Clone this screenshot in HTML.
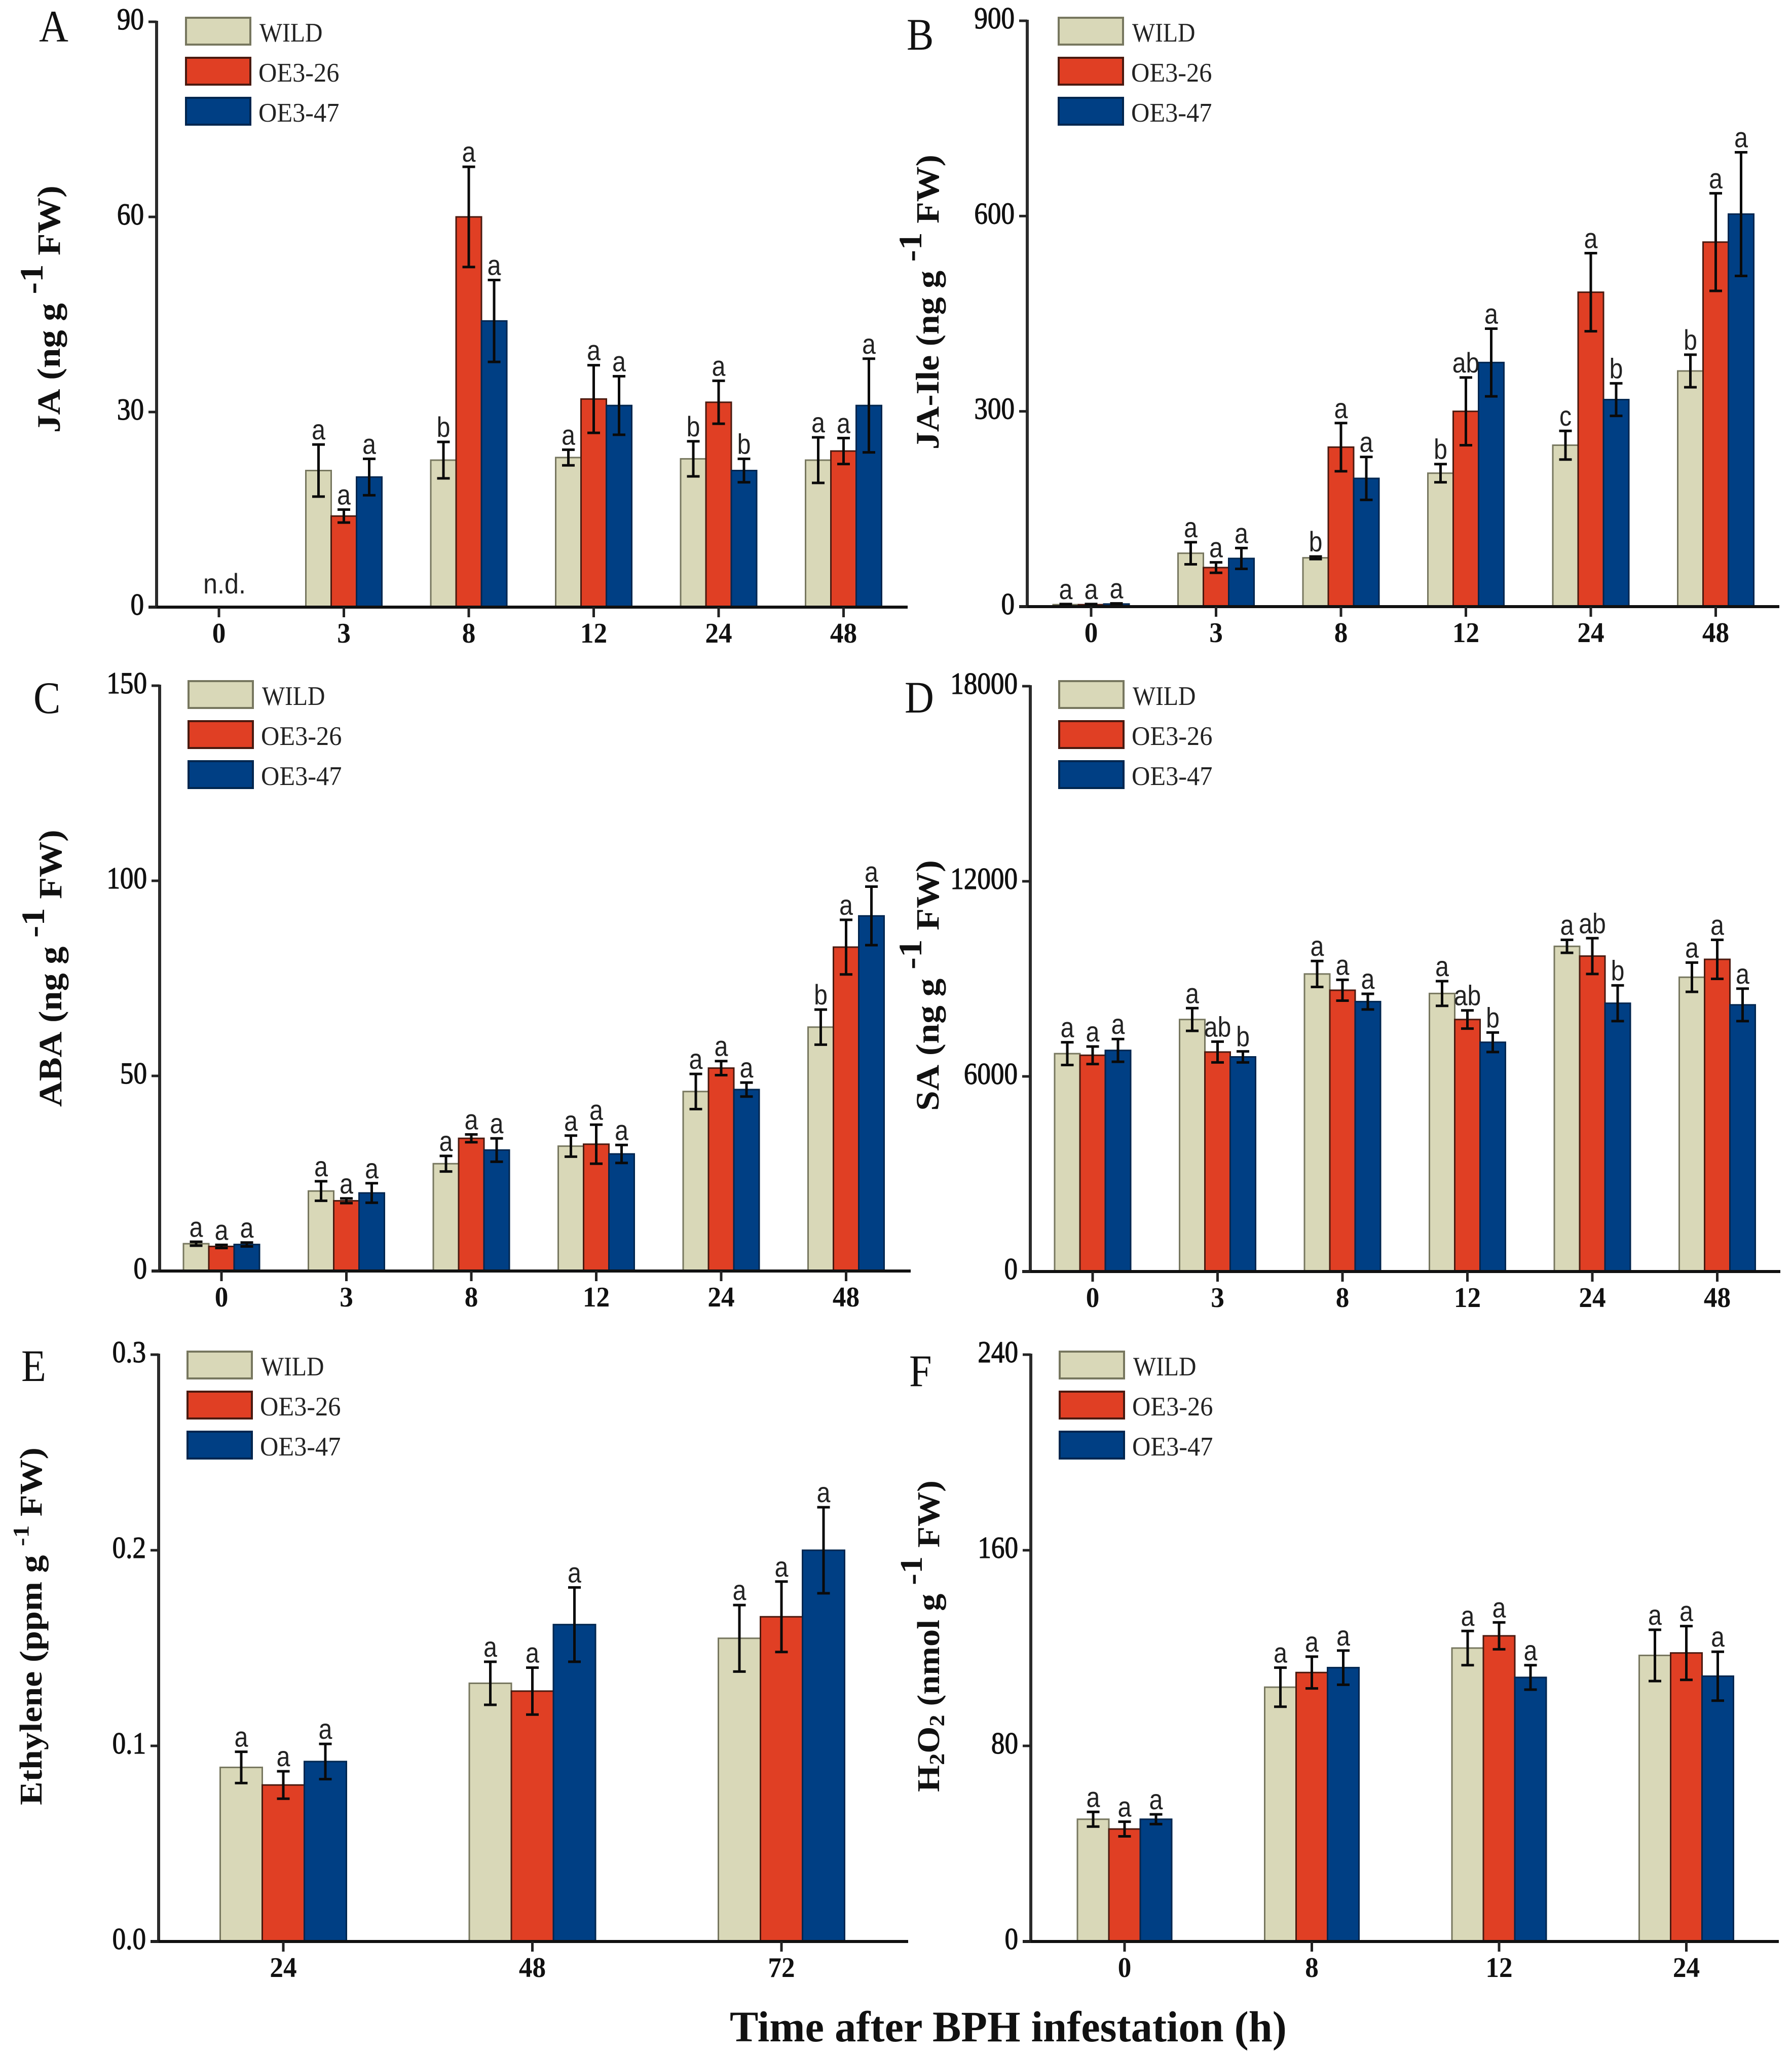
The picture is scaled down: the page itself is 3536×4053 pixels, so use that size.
<!DOCTYPE html>
<html lang="en">
<head>
<meta charset="utf-8">
<title>Phytohormone levels after BPH infestation</title>
<style>
html,body{margin:0;padding:0;background:#fff;}
svg{display:block;}
</style>
</head>
<body>
<svg id="figure" xmlns="http://www.w3.org/2000/svg" width="3536" height="4053" viewBox="0 0 3536 4053"></svg>
<script>
const seriesNames = ['WILD', 'OE3-26', 'OE3-47'];
const seriesFills = ['#d9d8b8', '#e03f24', '#003f84'];
const seriesEdges = ['#77775f', '#4a1a10', '#00264f'];

/* Panel A: JA */
const jaCategories = ['0', '3', '8', '12', '24', '48'];
const jaTicks = [0, 30, 60, 90];
const jaTickLabels = ['0', '30', '60', '90'];
const jaWild = [null, 21, 22.6, 23, 22.8, 22.6];
const jaWildErr = [null, 4, 2.8, 1.2, 2.7, 3.5];
const jaWildSig = ['', 'a', 'b', 'a', 'b', 'a'];
const jaOe26 = [null, 14, 60, 32, 31.5, 24];
const jaOe26Err = [null, 1, 7.7, 5.2, 3.3, 2];
const jaOe26Sig = ['', 'a', 'a', 'a', 'a', 'a'];
const jaOe47 = [null, 20, 44, 31, 21, 31];
const jaOe47Err = [null, 2.8, 6.3, 4.5, 1.8, 7.2];
const jaOe47Sig = ['', 'a', 'a', 'a', 'b', 'a'];

/* Panel B: JA-Ile */
const ileCategories = ['0', '3', '8', '12', '24', '48'];
const ileTicks = [0, 300, 600, 900];
const ileTickLabels = ['0', '300', '600', '900'];
const ileWild = [3, 82, 75, 205, 248, 362];
const ileWildErr = [1, 17, 2, 14, 22, 25];
const ileWildSig = ['a', 'a', 'b', 'b', 'c', 'b'];
const ileOe26 = [3, 60, 245, 300, 483, 560];
const ileOe26Err = [1, 8, 37, 52, 60, 75];
const ileOe26Sig = ['a', 'a', 'a', 'ab', 'a', 'a'];
const ileOe47 = [4, 74, 197, 375, 318, 603];
const ileOe47Err = [1, 16, 33, 52, 25, 95];
const ileOe47Sig = ['a', 'a', 'a', 'a', 'b', 'a'];

/* Panel C: ABA */
const abaCategories = ['0', '3', '8', '12', '24', '48'];
const abaTicks = [0, 50, 100, 150];
const abaTickLabels = ['0', '50', '100', '150'];
const abaWild = [7, 20.5, 27.5, 32, 46, 62.5];
const abaWildErr = [0.5, 2.5, 2, 2.7, 4.5, 4.5];
const abaWildSig = ['a', 'a', 'a', 'a', 'a', 'b'];
const abaOe26 = [6.3, 18, 34, 32.5, 52, 83];
const abaOe26Err = [0.4, 0.6, 1, 5, 1.8, 7];
const abaOe26Sig = ['a', 'a', 'a', 'a', 'a', 'a'];
const abaOe47 = [6.8, 20, 31, 30, 46.5, 91];
const abaOe47Err = [0.5, 2.5, 3, 2.3, 1.8, 7.5];
const abaOe47Sig = ['a', 'a', 'a', 'a', 'a', 'a'];

/* Panel D: SA */
const saCategories = ['0', '3', '8', '12', '24', '48'];
const saTicks = [0, 6000, 12000, 18000];
const saTickLabels = ['0', '6000', '12000', '18000'];
const saWild = [6700, 7750, 9150, 8550, 10000, 9050];
const saWildErr = [350, 350, 400, 380, 200, 450];
const saWildSig = ['a', 'a', 'a', 'a', 'a', 'a'];
const saOe26 = [6650, 6750, 8650, 7750, 9700, 9600];
const saOe26Err = [270, 320, 320, 280, 550, 600];
const saOe26Sig = ['a', 'ab', 'a', 'ab', 'ab', 'a'];
const saOe47 = [6800, 6600, 8300, 7050, 8250, 8200];
const saOe47Err = [350, 170, 240, 300, 550, 500];
const saOe47Sig = ['a', 'b', 'a', 'b', 'b', 'a'];

/* Panel E: Ethylene */
const ethCategories = ['24', '48', '72'];
const ethTicks = [0, 0.1, 0.2, 0.3];
const ethTickLabels = ['0.0', '0.1', '0.2', '0.3'];
const ethWild = [0.089, 0.132, 0.155];
const ethWildErr = [0.008, 0.011, 0.017];
const ethWildSig = ['a', 'a', 'a'];
const ethOe26 = [0.08, 0.128, 0.166];
const ethOe26Err = [0.007, 0.012, 0.018];
const ethOe26Sig = ['a', 'a', 'a'];
const ethOe47 = [0.092, 0.162, 0.2];
const ethOe47Err = [0.009, 0.019, 0.022];
const ethOe47Sig = ['a', 'a', 'a'];

/* Panel F: H2O2 */
const h2o2Categories = ['0', '8', '12', '24'];
const h2o2Ticks = [0, 80, 160, 240];
const h2o2TickLabels = ['0', '80', '160', '240'];
const h2o2Wild = [50, 104, 120, 117];
const h2o2WildErr = [3, 8, 7, 10.5];
const h2o2WildSig = ['a', 'a', 'a', 'a'];
const h2o2Oe26 = [46, 110, 125, 118];
const h2o2Oe26Err = [3, 6.5, 5.5, 11];
const h2o2Oe26Sig = ['a', 'a', 'a', 'a'];
const h2o2Oe47 = [50, 112, 108, 108.5];
const h2o2Oe47Err = [2, 7, 5, 10];
const h2o2Oe47Sig = ['a', 'a', 'a', 'a'];

const SERIF = '"Liberation Serif", serif';
const SANS = '"Liberation Sans", sans-serif';
const NS = 'http://www.w3.org/2000/svg';
const root = document.getElementById('figure');

function mk(tag, attrs, parent) {
  const el = document.createElementNS(NS, tag);
  for (const k in attrs) el.setAttribute(k, attrs[k]);
  parent.appendChild(el);
  return el;
}
function label(parent, x, y, str, size, family, weight, sx, anchor, fill) {
  const el = mk('text', {
    transform: 'translate(' + x + ',' + y + ') scale(' + sx + ',1)',
    'font-family': family, 'font-size': size, 'font-weight': weight,
    'text-anchor': anchor, fill: fill
  }, parent);
  el.textContent = str;
  return el;
}

function drawPanel(p) {
  const g = mk('g', {}, root);
  
  

  const maxV = p.ticks[p.ticks.length - 1];
  const yScale = v => p.y0 - (v / maxV) * (p.y0 - p.yTop);
  const xScale = i => p.firstX + i * p.step;

  /* panel letter */
  const letter = label(g, p.letterX, p.letterY, p.id, 89, SERIF, 'normal', 0.9, 'start', '#111');
  
  

  /* bars, error bars, significance letters */
  p.cats.forEach((cat, i) => {
    p.values.forEach((vals, s) => {
      if (vals[i] === null) return;
      const cx = xScale(i) + (s - 1) * p.barW;
      const top = yScale(vals[i]);
      const bar = mk('rect', {
        x: cx - p.barW / 2, y: top, width: p.barW, height: p.y0 - top,
        fill: seriesFills[s], stroke: seriesEdges[s], 'stroke-width': 3
      }, g);
      
      
    });
    p.values.forEach((vals, s) => {
      if (vals[i] === null) return;
      const cx = xScale(i) + (s - 1) * p.barW;
      const hi = yScale(vals[i] + p.errs[s][i]);
      const lo = yScale(vals[i] - p.errs[s][i]);
      const err = mk('path', {
        d: 'M' + cx + ' ' + hi + 'V' + lo + 'M' + (cx - 12.5) + ' ' + hi + 'H' + (cx + 12.5) + 'M' + (cx - 12.5) + ' ' + lo + 'H' + (cx + 12.5),
        fill: 'none', stroke: '#0a0a0a', 'stroke-width': 5
      }, g);
      
      
      const sig = label(g, cx, hi - 10, p.sigs[s][i], 56, SANS, 'normal', 0.86, 'middle', '#222');
      
      
    });
  });

  /* axes */
  const yAxis = mk('line', { x1: p.axisX, y1: p.yTop - 2, x2: p.axisX, y2: p.y0, stroke: '#2b2b2b', 'stroke-width': 6 }, g);
  
  
  const xAxis = mk('line', { x1: p.axisX - 16, y1: p.y0, x2: p.right, y2: p.y0, stroke: '#111', 'stroke-width': 6 }, g);
  
  

  p.ticks.forEach((t, i) => {
    const y = yScale(t);
    const tick = mk('line', { x1: p.axisX - 16, y1: y, x2: p.axisX, y2: y, stroke: '#222', 'stroke-width': 5 }, g);
    
    
    const tl = label(g, p.axisX - 25, y + 15, p.tickLabels[i], 60, SERIF, 'normal', 0.885, 'end', '#111');
    tl.setAttribute('stroke', '#111');
    tl.setAttribute('stroke-width', '1.2');
    
    
  });
  p.cats.forEach((cat, i) => {
    const x = xScale(i);
    const tick = mk('line', { x1: x, y1: p.y0, x2: x, y2: p.y0 + 20, stroke: '#222', 'stroke-width': 5 }, g);
    
    
    const tl = label(g, x, p.y0 + 70, cat, 56, SERIF, 'bold', 0.95, 'middle', '#111');
    
    
  });

  /* legend */
  seriesNames.forEach((name, s) => {
    const top = p.legendY + s * 79;
    const entry = mk('g', {}, g);
    
    
    const sw = mk('rect', { x: p.legendX, y: top, width: 127, height: 53, fill: seriesFills[s], stroke: seriesEdges[s], 'stroke-width': 4 }, entry);
    
    
    const tx = name === 'WILD' ? p.legendX + 145 : p.legendX + 143;
    const lt = label(entry, tx, top + 47, name, 53, SERIF, 'normal', name === 'WILD' ? 0.9 : 0.95, 'start', '#222');
    
    
  });

  /* y axis title: pieces kept as real text */
  const title = mk('text', {
    'font-family': SERIF, 'font-size': p.titleSize, 'font-weight': 'bold', fill: '#111'
  }, g);
  
  
  p.titleParts.forEach(part => {
    const ts = mk('tspan', {}, title);
    if (part.size) ts.setAttribute('font-size', part.size);
    if (part.dy) ts.setAttribute('dy', part.dy);
    ts.textContent = part.t;
  });
  const natural = title.getComputedTextLength();
  const sx = p.titleLen / natural;
  title.setAttribute('transform', 'translate(' + p.titleX + ',' + p.titleBottom + ') rotate(-90) scale(' + sx + ',1)');

  /* not-detected note */
  if (p.note) {
    const n = label(g, xScale(0) + 11, p.y0 - 27, p.note, 56, SANS, 'normal', 0.9, 'middle', '#222');
    
    
  }
}

const unitParts = [
  { t: ' (ng g ' },
  { t: '-1', dy: -34 },
  { t: '  FW)', dy: 34 }
];

drawPanel({
  id: 'A', cats: jaCategories, ticks: jaTicks, tickLabels: jaTickLabels,
  values: [jaWild, jaOe26, jaOe47], errs: [jaWildErr, jaOe26Err, jaOe47Err], sigs: [jaWildSig, jaOe26Sig, jaOe47Sig],
  axisX: 309, y0: 1198, yTop: 43, firstX: 432, step: 246.5, barW: 50, right: 1791,
  legendX: 367, legendY: 35, letterX: 77, letterY: 82,
  titleParts: [{ t: 'JA' }].concat(unitParts), titleX: 118, titleBottom: 854, titleLen: 484, titleSize: 65, note: 'n.d.'
});
drawPanel({
  id: 'B', cats: ileCategories, ticks: ileTicks, tickLabels: ileTickLabels,
  values: [ileWild, ileOe26, ileOe47], errs: [ileWildErr, ileOe26Err, ileOe47Err], sigs: [ileWildSig, ileOe26Sig, ileOe47Sig],
  axisX: 2027, y0: 1197, yTop: 41, firstX: 2153, step: 246.5, barW: 50, right: 3511,
  legendX: 2089, legendY: 35, letterX: 1789, letterY: 98,
  titleParts: [{ t: 'JA-Ile' }].concat(unitParts), titleX: 1852, titleBottom: 887, titleLen: 582, titleSize: 65
});
drawPanel({
  id: 'C', cats: abaCategories, ticks: abaTicks, tickLabels: abaTickLabels,
  values: [abaWild, abaOe26, abaOe47], errs: [abaWildErr, abaOe26Err, abaOe47Err], sigs: [abaWildSig, abaOe26Sig, abaOe47Sig],
  axisX: 315, y0: 2508, yTop: 1353, firstX: 437, step: 246.5, barW: 50, right: 1797,
  legendX: 372, legendY: 1344, letterX: 66, letterY: 1407,
  titleParts: [{ t: 'ABA' }].concat(unitParts), titleX: 121, titleBottom: 2184, titleLen: 543, titleSize: 65
});
drawPanel({
  id: 'D', cats: saCategories, ticks: saTicks, tickLabels: saTickLabels,
  values: [saWild, saOe26, saOe47], errs: [saWildErr, saOe26Err, saOe47Err], sigs: [saWildSig, saOe26Sig, saOe47Sig],
  axisX: 2033, y0: 2509, yTop: 1354, firstX: 2156, step: 246.5, barW: 50, right: 3513,
  legendX: 2090, legendY: 1344, letterX: 1785, letterY: 1406,
  titleParts: [{ t: 'SA' }].concat(unitParts), titleX: 1852, titleBottom: 2192, titleLen: 491, titleSize: 65
});
drawPanel({
  id: 'E', cats: ethCategories, ticks: ethTicks, tickLabels: ethTickLabels,
  values: [ethWild, ethOe26, ethOe47], errs: [ethWildErr, ethOe26Err, ethOe47Err], sigs: [ethWildSig, ethOe26Sig, ethOe47Sig],
  axisX: 313, y0: 3831, yTop: 2673, firstX: 559, step: 491.5, barW: 83, right: 1792,
  legendX: 370, legendY: 2667, letterX: 42, letterY: 2725,
  titleParts: [{ t: 'Ethylene (ppm g ' }, { t: '-1', size: 44, dy: -26 }, { t: ' FW)', dy: 26 }],
  titleX: 82, titleBottom: 3562, titleLen: 706, titleSize: 62
});
drawPanel({
  id: 'F', cats: h2o2Categories, ticks: h2o2Ticks, tickLabels: h2o2TickLabels,
  values: [h2o2Wild, h2o2Oe26, h2o2Oe47], errs: [h2o2WildErr, h2o2Oe26Err, h2o2Oe47Err], sigs: [h2o2WildSig, h2o2Oe26Sig, h2o2Oe47Sig],
  axisX: 2034, y0: 3831, yTop: 2673, firstX: 2219, step: 369.5, barW: 62, right: 3510,
  legendX: 2091, legendY: 2667, letterX: 1794, letterY: 2735,
  titleParts: [
    { t: 'H' }, { t: '2', size: 42, dy: 10 }, { t: 'O', dy: -10 }, { t: '2', size: 42, dy: 10 },
    { t: ' (nmol g ', dy: -10 }, { t: '-1', dy: -34 }, { t: ' FW)', dy: 34 }
  ],
  titleX: 1853, titleBottom: 3536, titleLen: 615, titleSize: 62
});

const bottomTitle = mk('text', { 'font-family': SERIF, 'font-size': 86, 'font-weight': 'bold', fill: '#111' }, root);


bottomTitle.textContent = 'Time after BPH infestation (h)';
const bottomScale = 1099 / bottomTitle.getComputedTextLength();
bottomTitle.setAttribute('transform', 'translate(1440,4028) scale(' + bottomScale + ',1)');
</script>
</body>
</html>
